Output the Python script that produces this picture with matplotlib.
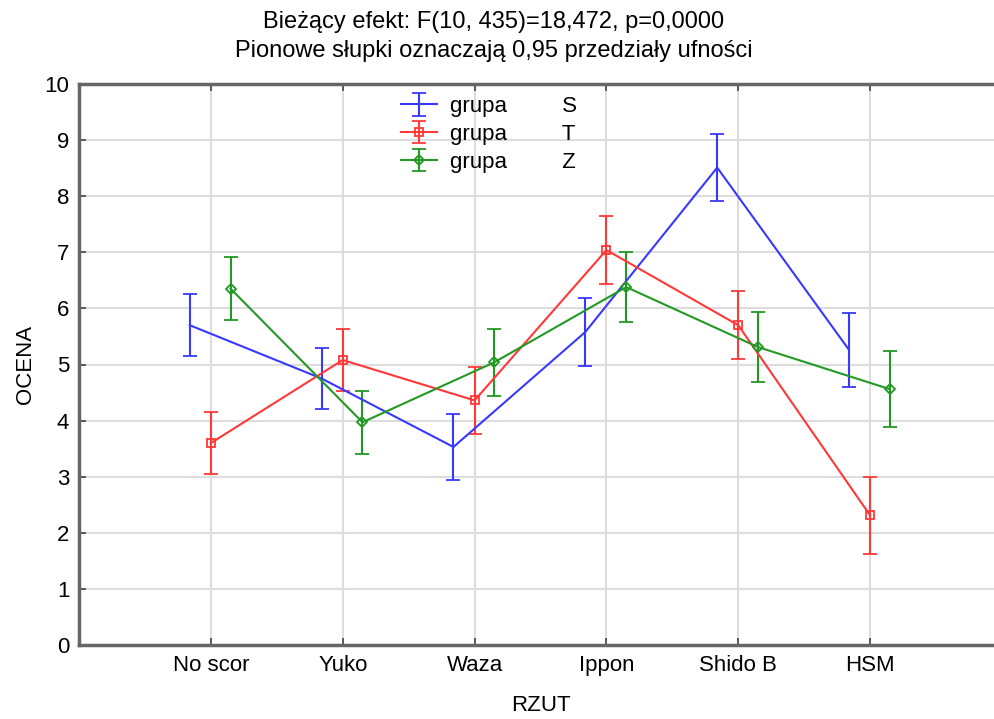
import matplotlib.pyplot as plt
import numpy as np

plt.rcParams['font.family'] = ['Liberation Sans', 'DejaVu Sans']

# Data
categories = ['No scor', 'Yuko', 'Waza', 'Ippon', 'Shido B', 'HSM']
groups = ['S', 'T', 'Z']
means = {
    'S': [5.70, 4.75, 3.53, 5.58, 8.51, 5.26],
    'T': [3.60, 5.08, 4.36, 7.04, 5.70, 2.31],
    'Z': [6.35, 3.97, 5.04, 6.38, 5.31, 4.56],
}
ci_half = {
    'S': [0.55, 0.54, 0.58, 0.60, 0.60, 0.66],
    'T': [0.55, 0.55, 0.60, 0.61, 0.61, 0.68],
    'Z': [0.56, 0.56, 0.60, 0.62, 0.62, 0.68],
}

colors = {'S': '#3838ff', 'T': '#ff3838', 'Z': '#229922'}
markers = {'S': 'none', 'T': 's', 'Z': 'D'}
msizes = {'S': 0, 'T': 6, 'Z': 5}
offsets = {'S': -0.16, 'T': 0.0, 'Z': 0.15}

x = np.arange(len(categories))

fig = plt.figure(figsize=(9.94, 7.19), dpi=100)
ax = fig.add_axes([79 / 994, 74 / 719, (1002 - 79) / 994, (645 - 84) / 719])

for g in groups:
    ax.errorbar(x + offsets[g], means[g], yerr=ci_half[g], color=colors[g],
                marker=markers[g], markersize=msizes[g], markerfacecolor='none',
                markeredgewidth=1.3, linewidth=1.5, elinewidth=1.5,
                capsize=5, capthick=1.5, label='grupa         ' + g)

ax.set_xlim(-1, 6)
ax.set_ylim(0, 10)
ax.set_xticks(x, labels=categories)
ax.set_yticks(np.arange(0, 11))
ax.grid(True, color='#dddddd', linewidth=1.5)
ax.set_axisbelow(True)

for side in ['left', 'bottom', 'top']:
    ax.spines[side].set_color('#666666')
    ax.spines[side].set_linewidth(2.5)
ax.spines['right'].set_visible(False)
ax.tick_params(direction='in', length=5, width=1.2, color='#444444',
               labelsize=16, top=True, pad=7)

ax.set_xlabel('RZUT', fontsize=16, labelpad=14)
ax.set_ylabel('OCENA', fontsize=16, labelpad=6)

fig.text(0.497, 0.970, 'Bieżący efekt: F(10, 435)=18,472, p=0,0000',
         ha='center', va='center', fontsize=17)
fig.text(0.497, 0.929, 'Pionowe słupki oznaczają 0,95 przedziały ufności',
         ha='center', va='center', fontsize=17)

ax.legend(loc='upper left', bbox_to_anchor=(0.33, 1.01), frameon=False,
          fontsize=16, handlelength=1.6, handletextpad=0.6,
          labelspacing=0.3, borderpad=0.3)

fig.savefig('out.png', dpi=100)
